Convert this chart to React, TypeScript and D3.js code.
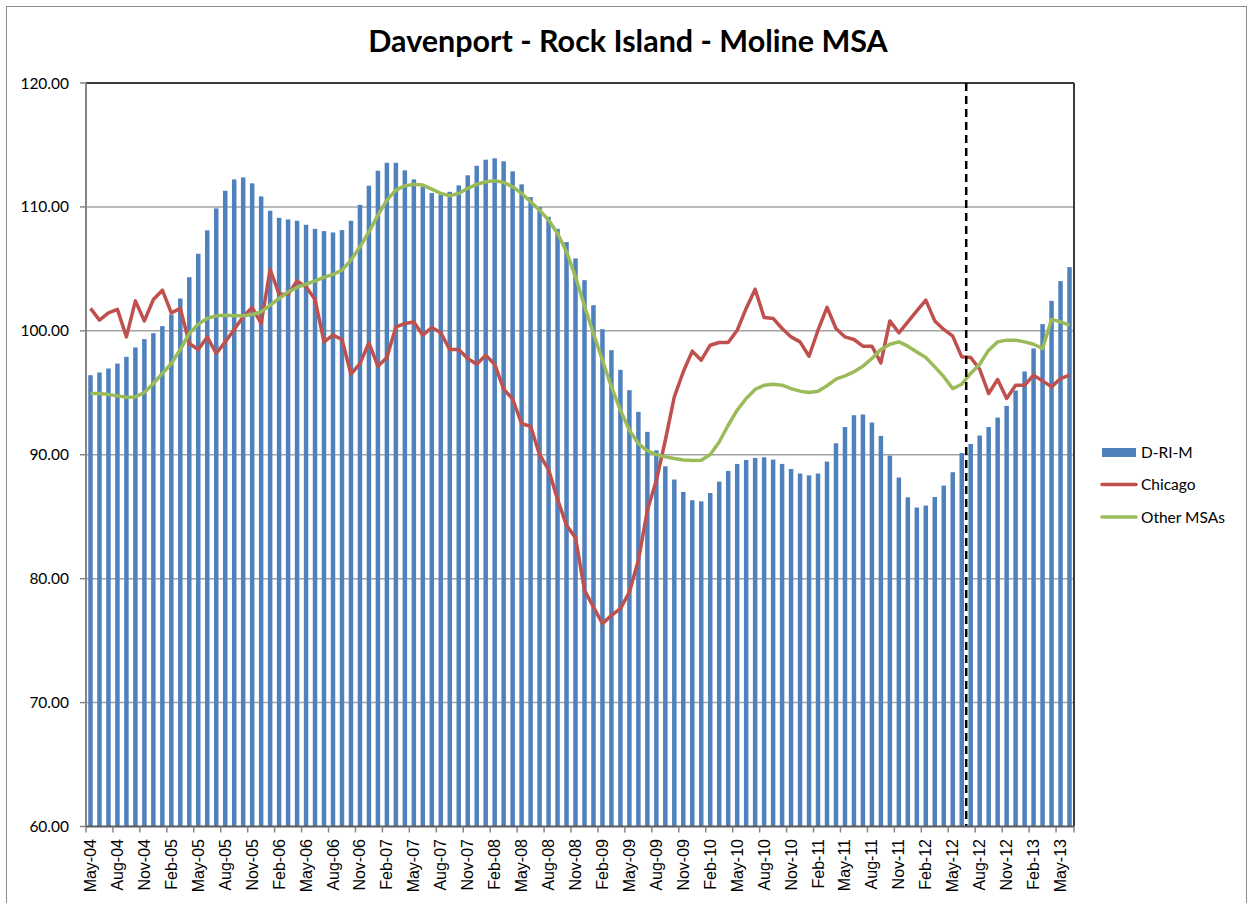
import React from "react";
import * as d3 from "d3";

const MONTHS = ["Jan","Feb","Mar","Apr","May","Jun","Jul","Aug","Sep","Oct","Nov","Dec"];
// categories: May-04 .. Jun-13 (110 months)
const categories: string[] = Array.from({ length: 110 }, (_, i) => {
  const m = (4 + i) % 12;
  const y = 4 + Math.floor((4 + i) / 12);
  return `${MONTHS[m]}-${String(y).padStart(2, "0")}`;
});

const tickLabels = [
  "May-04","Aug-04","Nov-04","Feb-05","May-05","Aug-05","Nov-05","Feb-06","May-06","Aug-06",
  "Nov-06","Feb-07","May-07","Aug-07","Nov-07","Feb-08","May-08","Aug-08","Nov-08","Feb-09",
  "May-09","Aug-09","Nov-09","Feb-10","May-10","Aug-10","Nov-10","Feb-11","May-11","Aug-11",
  "Nov-11","Feb-12","May-12","Aug-12","Nov-12","Feb-13","May-13",
];

const yTicks = [60, 70, 80, 90, 100, 110, 120];

const drim = [
  96.42, 96.64, 96.96, 97.36, 97.90, 98.66, 99.33, 99.81, 100.38, 101.32,
  102.61, 104.33, 106.22, 108.11, 109.88, 111.30, 112.22, 112.38, 111.90, 110.85,
  109.69, 109.12, 108.99, 108.88, 108.56, 108.23, 108.05, 107.94, 108.13, 108.88,
  110.17, 111.71, 112.92, 113.56, 113.56, 112.95, 112.22, 111.63, 111.12, 111.01,
  111.22, 111.74, 112.55, 113.32, 113.81, 113.92, 113.68, 112.87, 111.82, 110.79,
  109.99, 109.20, 108.23, 107.16, 105.84, 104.09, 102.07, 100.13, 98.44, 96.85,
  95.21, 93.46, 91.85, 90.36, 89.07, 88.00, 87.00, 86.33, 86.24, 86.91,
  87.83, 88.69, 89.26, 89.58, 89.74, 89.80, 89.61, 89.26, 88.85, 88.48,
  88.34, 88.48, 89.45, 90.93, 92.24, 93.19, 93.25, 92.60, 91.52, 89.93,
  88.16, 86.57, 85.74, 85.90, 86.59, 87.51, 88.59, 90.14, 90.87, 91.55,
  92.24, 93.00, 93.94, 95.18, 96.72, 98.58, 100.54, 102.42, 104.01, 105.14,
];

const chicago = [
  101.81, 100.86, 101.45, 101.73, 99.51, 102.42, 100.80, 102.53, 103.28, 101.45,
  101.81, 98.98, 98.49, 99.51, 98.17, 99.11, 100.11, 101.13, 101.89, 100.59,
  104.95, 102.96, 102.96, 104.03, 103.55, 102.53, 99.11, 99.65, 99.30, 96.50,
  97.36, 99.03, 97.15, 97.85, 100.32, 100.59, 100.72, 99.65, 100.27, 99.84,
  98.49, 98.49, 97.77, 97.31, 98.03, 97.31, 95.30, 94.50, 92.50, 92.30,
  90.00, 88.80, 86.40, 84.30, 83.30, 79.06, 77.71, 76.37, 77.04, 77.58,
  78.92, 81.48, 85.52, 87.94, 91.17, 94.67, 96.70, 98.36, 97.63, 98.84,
  99.06, 99.06, 100.05, 101.81, 103.36, 101.08, 101.00, 100.19, 99.51, 99.11,
  97.95, 100.05, 101.90, 100.19, 99.51, 99.30, 98.76, 98.76, 97.41, 100.80,
  99.84, 100.72, 101.61, 102.48, 100.80, 100.11, 99.57, 97.90, 97.85, 96.90,
  94.94, 96.07, 94.54, 95.61, 95.61, 96.42, 95.96, 95.48, 96.15, 96.42,
];

const otherMSAs = [
  94.94, 94.94, 94.86, 94.75, 94.64, 94.67, 95.02, 95.75, 96.56, 97.36,
  98.49, 99.79, 100.54, 101.00, 101.21, 101.26, 101.21, 101.21, 101.32, 101.53,
  102.07, 102.61, 103.15, 103.50, 103.77, 104.03, 104.31, 104.55, 104.90, 105.71,
  106.78, 107.99, 109.34, 110.55, 111.36, 111.71, 111.82, 111.76, 111.44, 111.09,
  110.90, 111.09, 111.50, 111.82, 112.03, 112.11, 111.98, 111.63, 111.09, 110.41,
  109.74, 108.94, 107.86, 106.38, 104.36, 102.00, 99.79, 97.63, 95.48, 93.60,
  91.98, 90.90, 90.31, 90.02, 89.83, 89.69, 89.58, 89.53, 89.56, 90.02,
  91.03, 92.38, 93.60, 94.54, 95.27, 95.61, 95.69, 95.61, 95.34, 95.13,
  95.02, 95.13, 95.57, 96.11, 96.36, 96.69, 97.15, 97.77, 98.49, 98.92,
  99.11, 98.76, 98.30, 97.85, 97.09, 96.30, 95.34, 95.69, 96.56, 97.30,
  98.44, 99.11, 99.25, 99.25, 99.11, 98.92, 98.58, 100.92, 100.72, 100.46,
];

const forecastStart = "Jul-12";

const W = 1248;
const H = 903;
const plot = { left: 86, right: 1074, top: 83, bottom: 826.5 };

export default function App() {
  const x = d3.scaleBand<string>().domain(categories).range([plot.left, plot.right]).padding(0);
  const y = d3.scaleLinear().domain([60, 120]).range([plot.bottom, plot.top]);
  const bw = x.bandwidth();
  const barW = bw * 0.5;
  const cx = (i: number) => (x(categories[i]) as number) + bw / 2;

  const line = d3
    .line<number>()
    .x((_, i) => cx(i))
    .y((d) => y(d));

  const dashX = x(forecastStart) as number;
  const labelFont = "Lato, 'Liberation Sans', sans-serif";

  return (
    <svg
      width={W}
      height={H}
      style={{ position: "absolute", left: 0, top: 0, background: "#fff" }}
    >
      <rect x={6.5} y={6.5} width={1240} height={H + 10} fill="#fff" stroke="#8c8c8c" strokeWidth={1} />
      <text
        x={628}
        y={52}
        textAnchor="middle"
        fontFamily={labelFont}
        fontWeight="bold"
        fontSize={30.5}
        fill="#000"
      >
        Davenport - Rock Island - Moline MSA
      </text>

      {/* gridlines */}
      {yTicks.slice(1, -1).map((t) => (
        <line key={t} x1={plot.left} x2={plot.right} y1={y(t)} y2={y(t)} stroke="#a3a3a3" strokeWidth={1.5} />
      ))}

      {/* bars */}
      {drim.map((v, i) => (
        <rect
          key={i}
          x={cx(i) - barW / 2}
          y={y(v)}
          width={barW}
          height={plot.bottom - y(v)}
          fill="#4f81bd"
        />
      ))}

      {/* plot border */}
      <line x1={plot.left} x2={plot.right} y1={plot.top} y2={plot.top} stroke="#3a3a3a" strokeWidth={2} />
      <line x1={plot.right} x2={plot.right} y1={plot.top} y2={plot.bottom} stroke="#3a3a3a" strokeWidth={2} />

      {/* lines */}
      <path d={line(chicago) || ""} fill="none" stroke="#c0504d" strokeWidth={3.5} strokeLinejoin="round" />
      <path d={line(otherMSAs) || ""} fill="none" stroke="#9bbb59" strokeWidth={3.5} strokeLinejoin="round" />

      {/* dashed forecast line */}
      <line x1={dashX} x2={dashX} y1={plot.top} y2={plot.bottom} stroke="#000" strokeWidth={2.5} strokeDasharray="8,5" />

      {/* axes */}
      <line x1={plot.left} x2={plot.left} y1={plot.top} y2={plot.bottom} stroke="#868686" strokeWidth={2} />
      <line x1={plot.left} x2={plot.right} y1={plot.bottom} y2={plot.bottom} stroke="#5a5a5a" strokeWidth={2} />

      {yTicks.map((t) => (
        <g key={t}>
          <line x1={plot.left - 6} x2={plot.left} y1={y(t)} y2={y(t)} stroke="#868686" strokeWidth={1.5} />
          <text
            x={69}
            y={y(t) + 5.5}
            textAnchor="end"
            fontFamily={labelFont}
            fontSize={15.5}
            fill="#000"
          >
            {t.toFixed(2)}
          </text>
        </g>
      ))}

      {tickLabels.map((lab) => {
        const xl = x(lab) as number;
        const xc = xl + bw / 2;
        return (
          <g key={lab}>
            <line x1={xl} x2={xl} y1={plot.bottom} y2={plot.bottom + 6} stroke="#868686" strokeWidth={1.5} />
            <text
              transform={`translate(${xc + 5.5},${839}) rotate(-90)`}
              textAnchor="end"
              fontFamily="'Liberation Sans', Arial, sans-serif"
              fontSize={16}
              fill="#000"
            >
              {lab}
            </text>
          </g>
        );
      })}
      <line x1={plot.right} x2={plot.right} y1={plot.bottom} y2={plot.bottom + 6} stroke="#868686" strokeWidth={1.5} />

      {/* legend */}
      <rect x={1102} y={448} width={34} height={9} fill="#4f81bd" />
      <text x={1141} y={458} fontFamily={labelFont} fontSize={15.5} fill="#000">D-RI-M</text>
      <line x1={1102} x2={1136} y1={484.5} y2={484.5} stroke="#c0504d" strokeWidth={3.5} strokeLinecap="round" />
      <text x={1141} y={490} fontFamily={labelFont} fontSize={15.5} fill="#000">Chicago</text>
      <line x1={1102} x2={1136} y1={517} y2={517} stroke="#9bbb59" strokeWidth={3.5} strokeLinecap="round" />
      <text x={1141} y={522.5} fontFamily={labelFont} fontSize={15.5} fill="#000">Other MSAs</text>
    </svg>
  );
}
